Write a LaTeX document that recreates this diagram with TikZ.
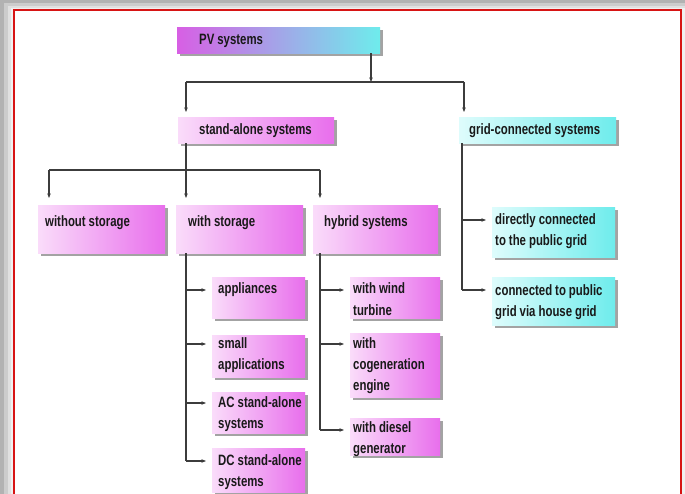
\documentclass[tikz,border=0pt]{standalone}
\usepackage{fontspec}
\newfontfamily\boxfont{Liberation Sans}[FakeStretch=0.76]
\newcommand\bxsetup{\hyphenpenalty=10000 \spaceskip=3pt plus 1pt\relax}
\usetikzlibrary{arrows.meta,shadows,calc}
\definecolor{frameRed}{RGB}{215,20,20}
\definecolor{lineGray}{RGB}{60,60,60}
\definecolor{txtCol}{RGB}{25,25,25}
\definecolor{pinkL}{RGB}{250,220,250}
\definecolor{pinkR}{RGB}{232,110,236}
\definecolor{cyanL}{RGB}{222,252,252}
\definecolor{cyanR}{RGB}{110,236,236}
\definecolor{magPV}{RGB}{215,95,228}
\begin{document}
\begin{tikzpicture}[x=1pt,y=-1pt,
  boxbase/.style={draw=none, inner sep=0pt, anchor=north west,
    drop shadow={shadow xshift=2.5pt, shadow yshift=-3pt, fill=black!45, opacity=0.8}},
  pinkbox/.style={boxbase, left color=pinkL, right color=pinkR},
  cyanbox/.style={boxbase, left color=cyanL, right color=cyanR},
  pvbox/.style={boxbase, left color=magPV, right color=cyanR},
  txt/.style={font=\boxfont\bfseries\fontsize{15}{21}\selectfont,
    execute at begin node=\bxsetup,
    text=txtCol, inner sep=0pt, anchor=base west, align=left, text width=200pt},
  line/.style={draw=lineGray, line width=1.2pt},
  arr/.style={line, -{Stealth[length=4.5pt,width=3.5pt]}}]
\useasboundingbox (0,0) rectangle (685,494);
% frame and its shadow
\fill[black!30] (0,0) rectangle (685,494);
\fill[black!20] (4,3) rectangle (685,494);
\fill[black!12] (8,6) rectangle (685,494);
\fill[black!6] (11,8) rectangle (685,494);
\draw[frameRed, line width=1.8pt, fill=white] (14,10) rectangle (681,510);
% boxes
\node[pvbox, minimum width=203pt, minimum height=26pt] (pv) at (177,27) {};
\node[pinkbox, minimum width=156pt, minimum height=26pt] (sa) at (178,117) {};
\node[cyanbox, minimum width=157pt, minimum height=26pt] (gc) at (459,117) {};
\node[pinkbox, minimum width=127pt, minimum height=48pt] (wo) at (38,205) {};
\node[pinkbox, minimum width=127pt, minimum height=48pt] (ws) at (176,205) {};
\node[pinkbox, minimum width=125pt, minimum height=48pt] (hy) at (313,205) {};
\node[pinkbox, minimum width=93pt, minimum height=41pt] (ap) at (212,277) {};
\node[pinkbox, minimum width=93pt, minimum height=42pt] (sm) at (212,335) {};
\node[pinkbox, minimum width=93pt, minimum height=41pt] (ac) at (212,392) {};
\node[pinkbox, minimum width=93pt, minimum height=44pt] (dc) at (212,448) {};
\node[pinkbox, minimum width=90pt, minimum height=41pt] (wt) at (350,277) {};
\node[pinkbox, minimum width=90pt, minimum height=64pt] (cg) at (350,333) {};
\node[pinkbox, minimum width=90pt, minimum height=37pt] (dg) at (350,418) {};
\node[cyanbox, minimum width=123pt, minimum height=50pt] (dir) at (492,207) {};
\node[cyanbox, minimum width=123pt, minimum height=48pt] (hg) at (492,277) {};
% texts
\node[txt] (tpv) at (199,45) {PV systems};
\node[txt] (tsa) at (199,135) {stand-alone systems};
\node[txt] (tgc) at (469,135) {grid-connected systems};
\node[txt] (two) at (45,227) {without storage};
\node[txt] (tws) at (188,227) {with storage};
\node[txt] (thy) at (324,227) {hybrid systems};
\node[txt] (tap) at (218,294) {appliances};
\node[txt] (tsm) at (218,348) {small\\applications};
\node[txt] (tac) at (218,407) {AC stand-alone\\systems};
\node[txt] (tdc) at (218,465) {DC stand-alone\\systems};
\node[txt] (twt) at (353,294) {with wind\\turbine};
\node[txt] (tcg) at (353,348) {with\\cogeneration\\engine};
\node[txt] (tdg) at (353,432) {with diesel\\generator};
\node[txt] (tdir) at (495,225) {directly connected\\to the public grid};
\node[txt] (thg) at (495,295) {connected to public\\grid via house grid};
% bus coordinates
\coordinate (b0) at (371,82);
\coordinate (b0l) at (186,82);
\coordinate (b0r) at (464,82);
\coordinate (b1) at (186,170);
\coordinate (b1l) at (49,170);
\coordinate (b1r) at (320,170);
\coordinate (vws) at (186,0);
\coordinate (vhy) at (320,0);
\coordinate (vgc) at (462,0);
% connectors
\draw[arr] (pv.south -| b0) -- (b0);
\draw[line] (b0l) -- (b0r);
\draw[arr, shorten >=5pt] (b0l) -- (sa.north -| b0l);
\draw[arr, shorten >=5pt] (b0r) -- (gc.north -| b0r);
\draw[line] (sa.south -| b1) -- (b1);
\draw[line] (b1l) -- (b1r);
\draw[arr, shorten >=7pt] (b1l) -- (wo.north -| b1l);
\draw[arr, shorten >=7pt] (b1) -- (ws.north -| b1);
\draw[arr, shorten >=7pt] (b1r) -- (hy.north -| b1r);
% with storage branch
\draw[line] (ws.south -| vws) -- ($(vws |- tdc.base)+(0,-4)$);
\draw[arr, shorten >=6pt] ($(vws |- tap.base)+(0,-4)$) -- ($(ap.west |- tap.base)+(0,-4)$);
\draw[arr, shorten >=6pt] ($(vws |- tsm.base)+(0,-4)$) -- ($(sm.west |- tsm.base)+(0,-4)$);
\draw[arr, shorten >=6pt] ($(vws |- tac.base)+(0,-4)$) -- ($(ac.west |- tac.base)+(0,-4)$);
\draw[arr, shorten >=6pt] ($(vws |- tdc.base)+(0,-4)$) -- ($(dc.west |- tdc.base)+(0,-4)$);
% hybrid branch
\draw[line] (hy.south -| vhy) -- ($(vhy |- tdg.base)+(0,-2)$);
\draw[arr, shorten >=6pt] ($(vhy |- twt.base)+(0,-4)$) -- ($(wt.west |- twt.base)+(0,-4)$);
\draw[arr, shorten >=6pt] ($(vhy |- tcg.base)+(0,-4)$) -- ($(cg.west |- tcg.base)+(0,-4)$);
\draw[arr, shorten >=6pt] ($(vhy |- tdg.base)+(0,-2)$) -- ($(dg.west |- tdg.base)+(0,-2)$);
% grid branch
\draw[line] (gc.south -| vgc) -- ($(vgc |- thg.base)+(0,-5)$);
\draw[arr, shorten >=6pt] ($(vgc |- tdir.base)+(0,-5)$) -- ($(dir.west |- tdir.base)+(0,-5)$);
\draw[arr, shorten >=6pt] ($(vgc |- thg.base)+(0,-5)$) -- ($(hg.west |- thg.base)+(0,-5)$);
\end{tikzpicture}
\end{document}
